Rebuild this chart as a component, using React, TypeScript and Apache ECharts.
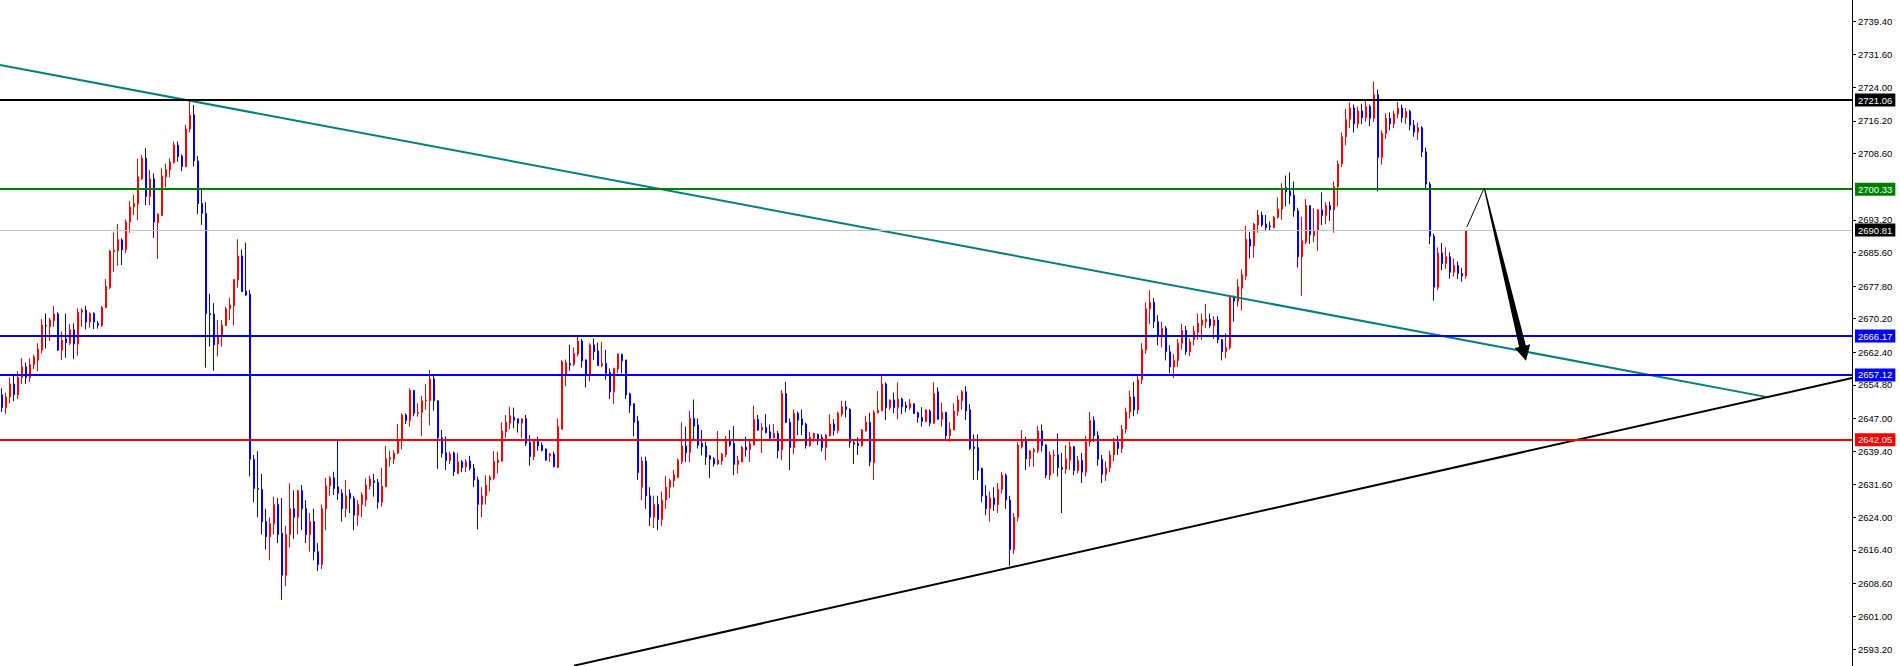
import React, { useEffect, useRef } from "react";
import * as echarts from "echarts";

// ---- candle data (hourly bars, oldest first) ----
const opens = [
  2652.5,2649.5,2652.0,2655.0,2652.5,2656.5,2659.0,2656.5,2659.5,2660.6,
  2662.9,2668.6,2668.3,2669.7,2671.3,2662.9,2665.5,2664.5,2667.6,2664.3,
  2671.7,2672.2,2669.4,2671.4,2669.1,2668.6,2672.8,2677.4,2685.8,2686.0,
  2688.5,2686.2,2692.7,2696.2,2696.9,2702.7,2707.5,2698.6,2702.7,2692.5,
  2694.2,2703.2,2704.8,2706.5,2710.6,2708.0,2705.6,2714.3,2717.6,2706.9,
  2697.0,2694.7,2671.4,2671.3,2664.3,2666.0,2668.6,2672.5,2673.2,2679.2,
  2684.8,2676.6,2675.9,2637.5,2630.7,2630.5,2623.0,2619.5,2622.5,2627.0,
  2620.3,2610.5,2620.0,2626.0,2624.0,2630.2,2626.0,2620.0,2623.0,2616.0,
  2613.0,2626.0,2631.3,2633.2,2631.1,2629.6,2626.0,2629.6,2628.4,2624.5,
  2627.0,2628.0,2631.3,2632.5,2632.1,2627.5,2631.1,2637.5,2637.5,2638.9,
  2642.0,2647.8,2646.5,2653.5,2648.2,2648.4,2651.1,2651.1,2656.2,2651.1,
  2642.5,2639.0,2637.2,2639.0,2634.2,2636.9,2635.7,2637.1,2635.4,2632.7,
  2627.0,2629.0,2632.7,2633.1,2636.7,2637.1,2643.9,2645.9,2647.3,2646.9,
  2645.9,2647.0,2641.4,2638.1,2641.7,2640.8,2639.9,2638.3,2638.7,2635.6,
  2644.5,2657.1,2659.8,2659.6,2662.0,2665.0,2660.6,2657.3,2664.1,2662.7,
  2659.3,2659.8,2657.7,2653.2,2658.5,2661.9,2660.6,2652.7,2650.4,2646.4,
  2631.0,2637.1,2629.0,2624.0,2627.0,2623.5,2628.0,2631.0,2632.5,2633.3,
  2637.0,2640.6,2639.1,2647.0,2645.5,2641.2,2640.6,2638.3,2637.6,2636.4,
  2637.1,2638.6,2641.7,2641.2,2636.3,2636.9,2640.3,2639.8,2640.8,2646.8,
  2644.3,2644.9,2643.9,2642.5,2643.5,2639.7,2652.8,2646.1,2640.2,2648.2,
  2646.9,2645.7,2640.7,2642.5,2643.3,2642.6,2640.2,2643.0,2645.7,2644.2,
  2648.0,2649.7,2649.1,2641.4,2641.2,2640.7,2644.1,2646.1,2636.7,2648.3,
  2648.8,2655.0,2649.5,2651.3,2649.5,2651.5,2650.0,2649.5,2650.4,2648.3,
  2647.2,2646.3,2648.7,2645.9,2653.2,2646.8,2648.4,2643.0,2644.3,2648.6,
  2651.1,2653.2,2649.0,2640.4,2640.2,2635.4,2629.0,2626.0,2628.5,2627.0,
  2630.5,2633.8,2628.0,2616.5,2624.0,2640.4,2642.0,2637.6,2639.3,2639.4,
  2644.1,2640.8,2633.8,2638.3,2638.5,2635.6,2635.2,2637.3,2640.4,2634.9,
  2637.2,2634.5,2641.5,2646.5,2643.0,2637.5,2634.0,2635.5,2638.5,2641.5,
  2640.0,2644.5,2648.5,2652.0,2649.0,2656.0,2663.0,2672.5,2674.0,2669.5,
  2666.0,2668.0,2662.5,2659.0,2660.5,2664.5,2667.5,2662.5,2665.3,2667.0,
  2668.7,2669.5,2670.1,2668.6,2669.9,2665.3,2662.5,2663.5,2675.3,2674.2,
  2677.3,2680.1,2688.7,2687.1,2692.0,2694.3,2692.2,2691.8,2691.4,2693.8,
  2695.7,2700.7,2699.9,2698.9,2695.3,2684.6,2688.1,2696.5,2689.5,2690.7,
  2695.5,2694.2,2696.5,2695.5,2700.9,2706.2,2712.5,2716.5,2719.2,2715.5,
  2718.5,2717.0,2719.5,2716.8,2722.3,2707.7,2713.3,2716.8,2715.5,2717.8,
  2719.2,2717.0,2718.4,2715.2,2713.6,2714.6,2709.0,2701.5,2689.4,2677.5,
  2685.5,2683.0,2684.6,2681.0,2682.6,2680.7,2680.1,
];
const highs = [
  2654.0,2653.0,2656.5,2657.0,2658.0,2661.0,2660.0,2661.0,2661.8,2664.5,
  2670.1,2671.4,2670.4,2673.2,2671.7,2667.2,2671.4,2668.9,2669.1,2672.6,
  2672.6,2673.2,2671.7,2671.7,2669.7,2673.2,2679.4,2686.2,2690.3,2692.2,
  2688.9,2693.3,2697.6,2699.0,2707.4,2708.3,2709.9,2704.8,2704.0,2694.7,
  2705.2,2706.3,2707.5,2711.4,2711.4,2708.4,2715.3,2721.1,2719.9,2708.0,
  2700.4,2697.3,2676.0,2673.8,2669.9,2669.9,2673.0,2675.1,2679.3,2688.7,
  2686.3,2687.9,2676.9,2638.5,2639.4,2634.1,2626.0,2624.0,2628.8,2628.5,
  2628.5,2622.0,2631.9,2630.3,2630.4,2631.5,2628.0,2625.0,2626.0,2618.0,
  2627.0,2633.2,2633.6,2634.6,2642.0,2630.5,2632.7,2630.5,2629.0,2628.0,
  2629.8,2633.1,2633.7,2634.1,2632.9,2635.5,2640.6,2639.5,2639.6,2645.7,
  2648.2,2648.2,2654.0,2653.6,2650.5,2652.2,2655.0,2658.3,2657.1,2651.3,
  2644.3,2642.8,2639.3,2639.3,2639.0,2637.3,2637.5,2638.3,2636.4,2633.5,
  2631.0,2633.8,2633.8,2639.4,2639.3,2646.1,2647.8,2649.7,2649.5,2647.0,
  2647.0,2647.8,2643.1,2642.1,2642.8,2641.4,2640.0,2639.0,2639.3,2647.0,
  2660.6,2660.7,2664.1,2663.5,2666.0,2665.5,2660.7,2664.5,2665.6,2664.6,
  2664.8,2662.9,2658.6,2658.8,2662.1,2662.1,2660.6,2653.0,2650.5,2647.6,
  2638.1,2638.1,2631.0,2629.0,2629.0,2630.0,2633.6,2633.0,2635.0,2637.7,
  2646.1,2645.1,2648.8,2651.4,2647.0,2644.3,2641.6,2638.5,2638.0,2644.1,
  2639.0,2642.9,2644.3,2645.2,2638.3,2640.6,2642.8,2642.0,2650.0,2647.8,
  2645.9,2648.0,2645.6,2645.7,2644.1,2653.6,2655.5,2647.0,2649.1,2648.6,
  2649.1,2646.0,2643.9,2643.7,2643.5,2643.3,2643.4,2648.0,2646.8,2648.6,
  2651.1,2651.1,2649.4,2642.1,2642.6,2644.5,2647.6,2648.3,2649.0,2653.4,
  2656.9,2655.4,2651.4,2653.0,2655.4,2651.8,2650.9,2651.5,2650.5,2648.6,
  2649.6,2649.1,2649.1,2655.4,2654.2,2650.7,2648.6,2646.1,2650.5,2652.3,
  2653.6,2654.5,2650.3,2643.3,2643.3,2635.5,2631.5,2630.0,2631.0,2632.0,
  2634.5,2634.2,2629.0,2625.0,2641.5,2644.3,2642.8,2639.7,2640.2,2645.3,
  2645.6,2641.0,2639.3,2639.7,2643.5,2639.0,2640.8,2641.6,2640.6,2638.3,
  2639.0,2643.0,2648.5,2647.5,2644.0,2638.5,2637.0,2639.5,2642.5,2643.0,
  2645.5,2649.5,2653.5,2655.5,2657.0,2664.5,2674.0,2676.8,2675.0,2671.0,
  2669.5,2668.5,2664.0,2662.0,2665.5,2669.0,2668.5,2665.6,2668.5,2671.4,
  2671.4,2673.6,2671.4,2670.8,2670.8,2665.5,2666.8,2675.7,2675.6,2679.4,
  2681.7,2691.8,2690.4,2692.5,2695.5,2695.1,2694.3,2692.8,2694.1,2698.4,
  2701.7,2703.5,2704.2,2702.1,2696.0,2693.9,2698.0,2696.5,2695.9,2695.7,
  2699.6,2697.3,2697.4,2702.1,2707.0,2713.5,2719.0,2720.5,2720.0,2719.5,
  2720.2,2721.2,2720.0,2725.4,2723.5,2714.0,2718.0,2718.2,2718.6,2720.6,
  2720.0,2719.2,2718.8,2716.4,2715.8,2715.0,2710.0,2702.0,2690.0,2686.8,
  2687.8,2686.8,2685.6,2684.2,2683.5,2682.0,2690.81,
];
const lows = [
  2648.5,2648.0,2650.5,2651.0,2651.5,2655.0,2655.0,2655.5,2658.5,2658.0,
  2662.1,2663.3,2665.0,2668.3,2662.7,2660.6,2661.1,2664.1,2660.8,2661.6,
  2668.3,2667.7,2668.1,2667.8,2667.9,2668.3,2672.6,2677.1,2681.1,2682.5,
  2682.7,2685.4,2690.2,2694.3,2693.1,2702.5,2696.6,2696.6,2689.0,2684.1,
  2694.2,2700.7,2703.1,2706.3,2706.7,2704.5,2705.4,2713.5,2705.6,2694.5,
  2692.0,2658.8,2663.7,2658.1,2661.4,2663.7,2668.6,2669.9,2668.6,2677.4,
  2676.5,2675.5,2633.5,2627.5,2624.0,2620.0,2616.5,2614.0,2620.0,2618.0,
  2604.8,2608.0,2617.0,2619.0,2620.0,2621.0,2618.0,2616.0,2614.0,2611.5,
  2612.0,2621.0,2629.0,2629.2,2628.0,2623.0,2624.0,2625.0,2621.0,2622.0,
  2624.0,2626.5,2630.5,2628.8,2626.0,2626.5,2631.0,2635.8,2636.4,2638.7,
  2639.8,2645.7,2645.1,2647.5,2647.4,2642.9,2649.0,2645.4,2648.8,2635.3,
  2637.9,2635.0,2636.4,2633.6,2634.1,2634.5,2634.5,2634.9,2631.0,2621.2,
  2624.0,2627.0,2630.0,2632.7,2634.2,2636.9,2642.5,2644.5,2644.7,2643.7,
  2642.5,2640.6,2636.0,2637.3,2639.5,2639.3,2637.2,2636.9,2635.6,2635.4,
  2644.5,2654.5,2658.1,2659.2,2661.4,2658.8,2654.2,2655.6,2660.6,2659.2,
  2658.9,2656.0,2651.5,2650.4,2657.5,2657.5,2651.5,2648.3,2642.8,2632.7,
  2628.0,2626.0,2622.0,2621.5,2621.0,2622.0,2626.0,2628.5,2631.0,2633.1,
  2636.4,2636.9,2636.8,2642.1,2640.0,2638.4,2636.2,2633.1,2635.8,2636.2,
  2636.2,2638.0,2640.4,2633.8,2634.2,2636.8,2638.1,2636.9,2640.8,2644.1,
  2639.0,2643.5,2642.1,2642.4,2637.7,2637.3,2645.9,2635.0,2638.7,2643.1,
  2643.1,2640.0,2640.4,2641.6,2640.8,2639.3,2637.3,2642.8,2643.0,2643.5,
  2647.4,2647.2,2640.2,2636.4,2638.5,2640.4,2643.9,2635.9,2632.7,2648.2,
  2648.7,2646.6,2649.0,2648.2,2646.8,2648.0,2648.4,2649.0,2648.0,2646.0,
  2645.1,2646.1,2645.2,2645.7,2646.8,2645.1,2642.2,2641.6,2644.3,2647.6,
  2649.0,2646.6,2639.7,2632.7,2632.7,2627.5,2624.5,2623.0,2625.5,2625.0,
  2629.5,2626.0,2612.7,2615.5,2623.0,2640.0,2635.0,2635.8,2635.8,2638.9,
  2639.3,2633.1,2632.7,2634.2,2633.5,2625.0,2634.1,2635.0,2633.8,2634.2,
  2632.0,2633.5,2640.5,2641.5,2636.0,2632.0,2632.5,2634.5,2637.0,2638.5,
  2639.0,2643.5,2647.0,2647.5,2648.0,2655.0,2662.0,2669.0,2668.0,2664.0,
  2663.5,2660.5,2657.5,2656.4,2659.0,2663.0,2661.8,2661.5,2664.0,2665.3,
  2665.3,2668.0,2668.0,2665.5,2664.5,2660.5,2661.0,2663.0,2669.5,2673.0,
  2672.1,2679.2,2684.2,2684.4,2690.2,2691.6,2690.8,2690.7,2691.2,2693.5,
  2693.2,2696.3,2696.8,2693.9,2682.1,2675.5,2687.5,2687.6,2688.0,2686.0,
  2692.0,2692.2,2692.9,2690.2,2696.3,2705.5,2710.5,2714.5,2713.5,2714.5,
  2715.5,2716.0,2715.0,2716.0,2699.8,2706.0,2712.0,2714.0,2714.5,2716.8,
  2715.8,2715.5,2714.0,2712.5,2711.8,2707.8,2700.2,2687.5,2674.4,2676.8,
  2681.5,2681.8,2679.5,2680.0,2679.4,2678.8,2679.5,
];
const closes = [
  2649.5,2652.0,2655.0,2652.5,2656.5,2659.0,2656.5,2659.5,2661.3,2663.1,
  2668.7,2668.6,2669.9,2671.3,2662.9,2665.2,2664.6,2667.6,2664.3,2671.7,
  2672.2,2669.4,2671.4,2669.4,2668.7,2672.8,2677.7,2685.9,2686.1,2688.6,
  2686.2,2692.7,2696.2,2697.0,2703.2,2707.5,2698.6,2702.7,2692.7,2694.5,
  2703.4,2704.9,2706.6,2710.6,2707.9,2705.6,2714.3,2717.6,2706.9,2697.0,
  2694.7,2671.4,2671.1,2664.1,2666.0,2668.7,2672.5,2673.4,2679.3,2684.8,
  2676.5,2675.7,2637.5,2630.7,2630.5,2623.0,2619.5,2622.5,2627.0,2620.0,
  2610.5,2620.0,2626.0,2624.0,2630.2,2626.0,2620.0,2623.0,2616.0,2613.0,
  2626.0,2631.3,2633.2,2630.7,2629.6,2626.0,2629.0,2628.4,2624.5,2627.0,
  2629.2,2631.5,2632.9,2632.1,2627.5,2631.2,2637.6,2637.9,2638.9,2642.0,
  2647.8,2646.5,2653.5,2648.2,2648.4,2651.1,2651.3,2656.2,2651.1,2642.5,
  2638.9,2637.2,2638.7,2634.6,2636.9,2635.6,2636.9,2635.4,2632.7,2627.0,
  2629.0,2631.5,2633.3,2637.0,2637.3,2644.1,2646.1,2647.6,2646.6,2645.9,
  2646.9,2641.2,2638.1,2641.7,2640.6,2639.6,2637.3,2638.7,2635.8,2645.1,
  2660.2,2660.0,2659.4,2662.1,2665.0,2660.4,2657.1,2664.1,2662.5,2659.3,
  2659.8,2657.5,2653.2,2658.6,2662.0,2660.4,2652.5,2650.0,2646.1,2634.4,
  2637.1,2629.0,2624.0,2627.0,2623.5,2628.0,2631.0,2632.5,2633.9,2637.3,
  2640.6,2639.0,2647.0,2645.2,2640.8,2640.4,2638.0,2637.5,2636.4,2637.3,
  2638.7,2641.7,2640.8,2636.3,2637.2,2640.3,2639.7,2641.1,2646.8,2644.3,
  2644.9,2643.7,2642.4,2643.5,2639.5,2652.8,2646.1,2640.2,2648.2,2646.6,
  2645.5,2640.7,2642.6,2643.5,2642.2,2640.2,2643.1,2645.7,2644.2,2648.2,
  2649.7,2649.1,2641.4,2641.0,2640.7,2644.3,2646.1,2636.9,2648.4,2648.9,
  2655.0,2649.5,2651.3,2649.5,2651.5,2649.7,2649.5,2650.4,2648.2,2647.2,
  2646.3,2649.0,2645.9,2652.8,2646.8,2648.4,2643.0,2644.5,2648.7,2651.3,
  2653.2,2648.7,2640.0,2640.0,2634.9,2629.0,2626.0,2628.5,2627.0,2630.5,
  2633.8,2628.0,2616.5,2624.0,2640.8,2641.8,2637.6,2639.4,2639.7,2644.1,
  2640.7,2633.8,2638.5,2638.5,2635.6,2635.2,2637.6,2640.4,2634.9,2637.2,
  2634.5,2641.5,2646.5,2643.0,2637.5,2634.0,2635.5,2638.5,2641.5,2640.0,
  2644.5,2648.5,2652.0,2649.0,2656.0,2663.0,2672.5,2674.0,2669.5,2666.0,
  2668.0,2662.5,2659.0,2660.5,2664.5,2667.5,2662.5,2664.8,2667.3,2669.1,
  2669.9,2670.1,2668.6,2669.9,2665.3,2662.5,2663.5,2675.6,2674.3,2677.6,
  2680.4,2688.7,2687.1,2692.2,2694.3,2692.0,2691.4,2691.6,2693.8,2695.7,
  2700.3,2699.7,2698.8,2695.3,2684.6,2688.3,2696.5,2689.7,2690.7,2695.5,
  2694.2,2696.5,2695.5,2700.9,2706.2,2712.5,2716.5,2719.2,2715.5,2718.5,
  2717.0,2719.5,2716.8,2722.3,2707.7,2713.3,2716.8,2715.5,2717.8,2719.2,
  2717.0,2718.4,2715.2,2713.6,2714.6,2709.0,2701.5,2689.4,2677.5,2685.5,
  2683.0,2684.6,2681.0,2682.6,2680.7,2680.1,2690.81,
];

// ---- axis ----
const totalSlots = 463; // bar slots across the plot (empty space on the right)
const yMin = 2589.42;
const yMax = 2744.32;
const tickValues = [
  2593.2, 2601.0, 2608.6, 2616.4, 2624.0, 2631.6, 2639.4, 2647.0, 2654.8, 2662.4,
  2670.2, 2677.8, 2685.6, 2693.2, 2708.6, 2716.2, 2724.0, 2731.6, 2739.4,
];

// ---- horizontal levels ----
const levelPrices = [2721.06, 2700.33, 2690.81, 2666.17, 2657.12, 2642.05];
const levelColors = ["#000000", "#008000", "#C0C0C0", "#0000FF", "#0000FF", "#FF0000"];
const levelLabelBg = ["#000000", "#008000", "#000000", "#0000FF", "#0000FF", "#FF0000"];
const levelWidths = [2, 2, 1, 2, 2, 2];

// ---- drawn objects (bar index, price) ----
const resistanceTrend = [[-0.5, 2729.2], [441.7, 2651.9]];
const supportTrend = [[143.0, 2589.5], [462.5, 2656.4]];
const leadLine = [[366.2, 2691.5], [370.5, 2700.5]];
const arrowFrom = [370.6, 2700.5];
const arrowTo = [381.0, 2660.4];

const FONT = '"Liberation Sans", Tahoma, Arial, sans-serif';

export default function App() {
  const ref = useRef<HTMLDivElement>(null);

  useEffect(() => {
    document.body.style.margin = "0";
    document.body.style.background = "#ffffff";
    if (!ref.current) return;
    const chart = echarts.init(ref.current, undefined, { renderer: "svg" });

    const categories = Array.from({ length: totalSlots }, (_, i) => String(i));
    const candleData = opens.map((o, i) => [o, closes[i], lows[i], highs[i]]);

    const option: any = {
      animation: false,
      backgroundColor: "#ffffff",
      grid: { left: 0, right: 48, top: 0, bottom: 0, containLabel: false },
      xAxis: [
        { type: "category", data: categories, boundaryGap: true, show: false },
        { type: "value", min: -0.5, max: totalSlots - 0.5, show: false },
      ],
      yAxis: {
        type: "value",
        position: "right",
        min: yMin,
        max: yMax,
        axisLine: { show: true, onZero: false, lineStyle: { color: "#000", width: 1 } },
        axisTick: { show: true, length: 4, lineStyle: { color: "#000" }, customValues: tickValues },
        axisLabel: {
          show: true,
          customValues: tickValues,
          formatter: (v: number) => v.toFixed(2),
          color: "#000",
          fontSize: 9.5,
          fontFamily: FONT,
          margin: 6,
        },
        splitLine: { show: false },
      },
      series: [
        {
          type: "candlestick",
          xAxisIndex: 0,
          yAxisIndex: 0,
          data: candleData,
          barWidth: 2,
          z: 2,
          silent: true,
          itemStyle: {
            color: "#FF0000",
            color0: "#0000FF",
            borderColor: "#FF0000",
            borderColor0: "#0000FF",
            borderColorDoji: "#000000",
            borderWidth: 1,
          },
        },
        {
          type: "line",
          xAxisIndex: 1,
          yAxisIndex: 0,
          data: resistanceTrend,
          showSymbol: false,
          symbol: "none",
          silent: true,
          z: 4,
          lineStyle: { color: "#008080", width: 2 },
          markLine: {
            silent: true,
            symbol: ["none", "none"],
            data: levelPrices.map((p, i) => ({
              yAxis: p,
              lineStyle: { color: levelColors[i], width: levelWidths[i], type: "solid" },
              label: {
                show: true,
                position: "end",
                distance: 3,
                formatter: () => p.toFixed(2),
                color: "#ffffff",
                backgroundColor: levelLabelBg[i],
                fontSize: 9.5,
                fontFamily: FONT,
                padding: [2, 3, 1, 3],
              },
            })),
          },
        },
        {
          type: "line",
          xAxisIndex: 1,
          yAxisIndex: 0,
          data: supportTrend,
          showSymbol: false,
          symbol: "none",
          silent: true,
          z: 4,
          lineStyle: { color: "#000000", width: 2 },
        },
        {
          type: "line",
          xAxisIndex: 1,
          yAxisIndex: 0,
          data: leadLine,
          showSymbol: false,
          symbol: "none",
          silent: true,
          z: 5,
          lineStyle: { color: "#000000", width: 1 },
        },
        {
          type: "custom",
          xAxisIndex: 1,
          yAxisIndex: 0,
          z: 6,
          silent: true,
          data: [[arrowFrom[0], arrowFrom[1], arrowTo[0], arrowTo[1]]],
          encode: { x: [0, 2], y: [1, 3] },
          renderItem: (_params: any, api: any) => {
            const s = api.coord([api.value(0), api.value(1)]);
            const t = api.coord([api.value(2), api.value(3)]);
            const dx = t[0] - s[0];
            const dy = t[1] - s[1];
            const len = Math.hypot(dx, dy) || 1;
            const ux = dx / len;
            const uy = dy / len;
            const nx = -uy;
            const ny = ux;
            const head = 15;
            const hw = 8;
            const sw = 3.5;
            const s0 = 0.6;
            const bx = t[0] - ux * head;
            const by = t[1] - uy * head;
            const pts = [
              [s[0] + nx * s0, s[1] + ny * s0],
              [bx + nx * sw, by + ny * sw],
              [bx + nx * hw, by + ny * hw],
              [t[0], t[1]],
              [bx - nx * hw, by - ny * hw],
              [bx - nx * sw, by - ny * sw],
              [s[0] - nx * s0, s[1] - ny * s0],
            ];
            return { type: "polygon", shape: { points: pts }, style: { fill: "#000000" } };
          },
        },
      ],
    };

    chart.setOption(option);
    return () => {
      chart.dispose();
    };
  }, []);

  return <div ref={ref} style={{ width: 1900, height: 666 }} />;
}
